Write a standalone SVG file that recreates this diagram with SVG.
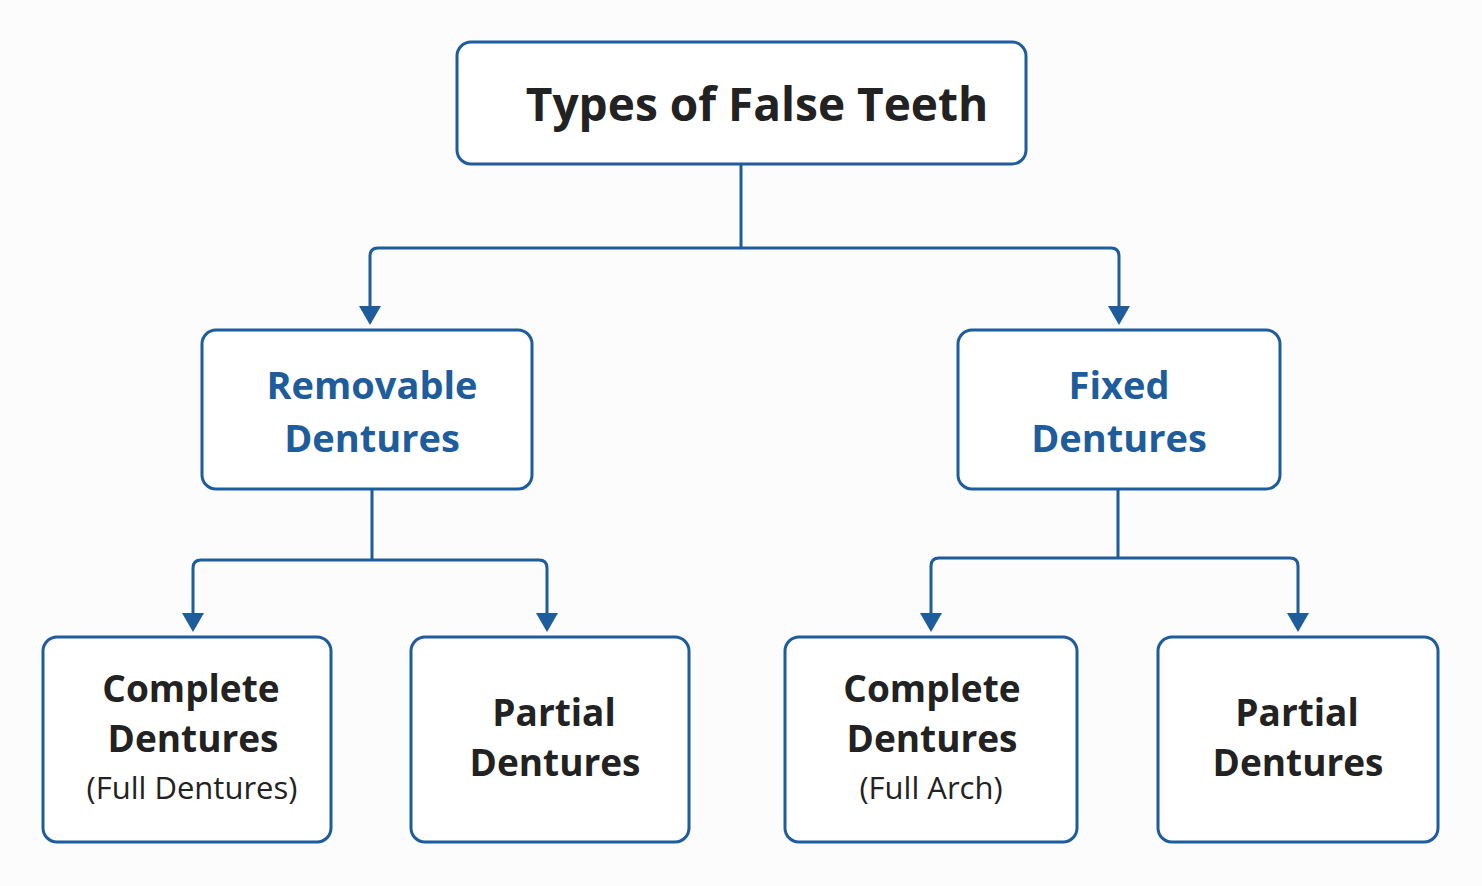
<svg xmlns="http://www.w3.org/2000/svg" width="1482" height="886" viewBox="0 0 1482 886">
<defs>
<style>
.box{fill:#fff;stroke:#1e5c9c;stroke-width:3}
.ln{fill:none;stroke:#1e5c9c;stroke-width:3}
text{font-family:"Open Sans","Liberation Sans",sans-serif;text-anchor:middle}
.t{font-size:46px;font-weight:bold;fill:#222}
.m{font-size:38px;font-weight:bold;fill:#1e5c9c}
.b{font-size:37px;font-weight:bold;fill:#222}
.s{font-size:31px;fill:#222}
</style>
<marker id="ar" viewBox="0 0 10 10" refX="5" refY="9" markerWidth="8" markerHeight="7" orient="auto" markerUnits="userSpaceOnUse"><path d="M0,0 L10,0 L5,10 z" fill="#1e5c9c" transform="scale(1)"/></marker>
</defs>
<rect width="1482" height="886" fill="#fcfcfc"/>
<g id="connectors">
<path class="ln" d="M741,164 V248"/>
<path class="ln" d="M370,320 V256 Q370,248 378,248 H1111 Q1119,248 1119,256 V320"/>
<path class="ln" d="M372,489 V560"/>
<path class="ln" d="M193,628 V568 Q193,560 201,560 H539 Q547,560 547,568 V628"/>
<path class="ln" d="M1118,489 V558"/>
<path class="ln" d="M931,628 V566 Q931,558 939,558 H1290 Q1298,558 1298,566 V628"/>
<g fill="#1e5c9c">
<path d="M359,306 H381 L370,325 z"/><path d="M1108,306 H1130 L1119,325 z"/>
<path d="M182,613 H204 L193,632 z"/><path d="M536,613 H558 L547,632 z"/>
<path d="M920,613 H942 L931,632 z"/><path d="M1287,613 H1309 L1298,632 z"/>
</g>
</g>
<g id="root"><rect class="box" x="457" y="42" width="569" height="122" rx="14"/><text class="t" x="757" y="121">Types of False Teeth</text></g>
<g id="removable"><rect class="box" x="202" y="330" width="330" height="159" rx="14"/><text class="m" x="372" y="399">Removable</text><text class="m" x="372" y="452">Dentures</text></g>
<g id="fixed"><rect class="box" x="958" y="330" width="322" height="159" rx="14"/><text class="m" x="1119" y="399">Fixed</text><text class="m" x="1119" y="452">Dentures</text></g>
<g id="complete1"><rect class="box" x="43" y="637" width="288" height="205" rx="14"/><text class="b" x="191" y="702">Complete</text><text class="b" x="193" y="752">Dentures</text><text class="s" x="192" y="799">(Full Dentures)</text></g>
<g id="partial1"><rect class="box" x="411" y="637" width="278" height="205" rx="14"/><text class="b" x="554" y="726">Partial</text><text class="b" x="555" y="776">Dentures</text></g>
<g id="complete2"><rect class="box" x="785" y="637" width="292" height="205" rx="14"/><text class="b" x="932" y="702">Complete</text><text class="b" x="932" y="752">Dentures</text><text class="s" x="931" y="799">(Full Arch)</text></g>
<g id="partial2"><rect class="box" x="1158" y="637" width="280" height="205" rx="14"/><text class="b" x="1297" y="726">Partial</text><text class="b" x="1298" y="776">Dentures</text></g>
</svg>
